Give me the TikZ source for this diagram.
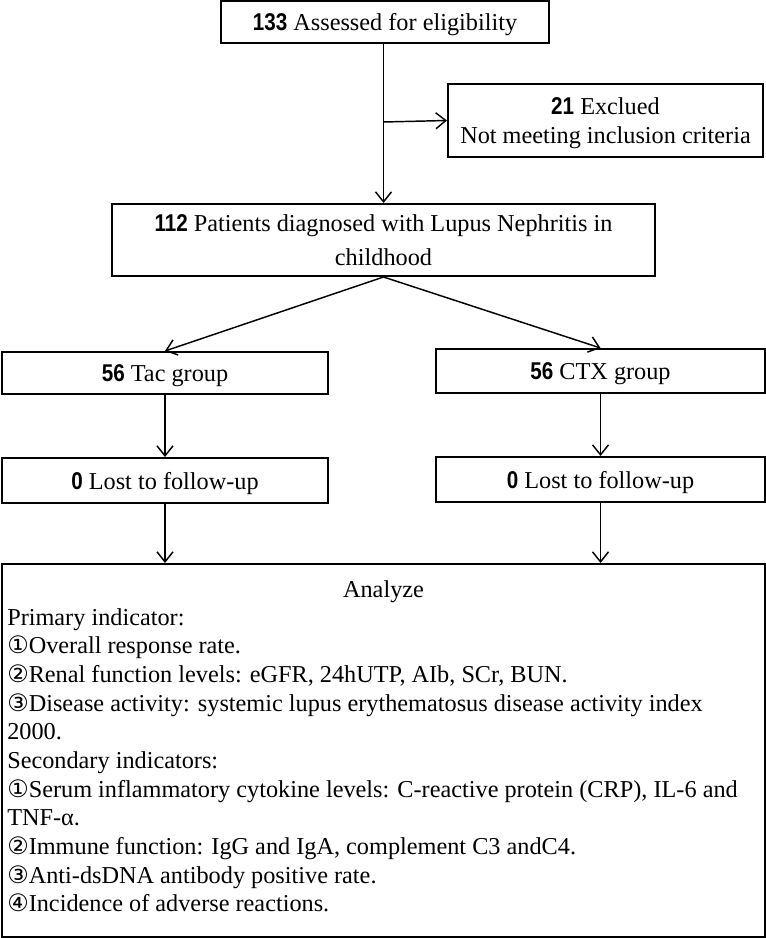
\documentclass[tikz,border=0pt]{standalone}
\usepackage{fontspec}
\setmainfont{Liberation Serif}
\newfontfamily\numfont[FakeStretch=0.85]{Liberation Sans}
\newfontfamily\circfont{DejaVu Sans}
\usetikzlibrary{arrows.meta}
\newcommand{\nb}[1]{{\numfont\bfseries #1}}
\newcommand{\cd}[1]{{\circfont\fontsize{18}{18}\selectfont #1}}
\begin{document}
\begin{tikzpicture}[x=0.75pt,y=-0.75pt,
  every node/.style={font=\fontsize{18.2}{21.75}\selectfont},
  box/.style={draw, line width=1.5pt, inner sep=0pt, align=center},
  one/.style={text height=17.5pt, text depth=4.5pt},
  arr/.style={line width=1.1pt, -{Straight Barb[length=7.5pt,width=12pt,line width=1.1pt]}}]
\useasboundingbox (0,0) rectangle (766,938);
\node[box, one, minimum width=246pt, minimum height=31.5pt] (top) at (385,22) {\nb{133} Assessed for eligibility};
\node[box, minimum width=236.25pt, minimum height=54.75pt] (excl) at (605.5,120.5) {};
\node[align=center, inner sep=0pt] (exclt) at (605.5,123.5) {\nb{21} Exclued\\Not meeting inclusion criteria};
\node[box, minimum width=407.25pt, minimum height=54pt, font=\fontsize{18.2}{25.5}\selectfont] (mid) at (383.5,240) {\nb{112} Patients diagnosed with Lupus Nephritis in\\childhood};
\node[box, one, minimum width=244.5pt, minimum height=31.5pt] (tac) at (165,373) {\nb{56} Tac group};
\node[box, one, minimum width=246.75pt, minimum height=33pt] (ctx) at (600.5,371) {\nb{56} CTX group};
\node[box, one, minimum width=244.5pt, minimum height=33.75pt] (lost1) at (165,480.5) {\nb{0} Lost to follow-up};
\node[box, one, minimum width=246.75pt, minimum height=33.75pt] (lost2) at (600.5,479.5) {\nb{0} Lost to follow-up};
\node[box, minimum width=572.25pt, minimum height=279.75pt] (an) at (383.5,750.5) {};
\node (antitle) at (383.5,592) {Analyze};
\node[anchor=north west, align=left, inner sep=0pt, font=\fontsize{18.2}{21.5}\selectfont] (antext) at (7,608) {%
Primary indicator:\\
\cd{①}Overall response rate.\\
\cd{②}Renal function levels: eGFR, 24hUTP, AIb, SCr, BUN.\\
\cd{③}Disease activity: systemic lupus erythematosus disease activity index\\
2000.\\
Secondary indicators:\\
\cd{①}Serum inflammatory cytokine levels: C-reactive protein (CRP), IL-6 and\\
TNF-α.\\
\cd{②}Immune function: IgG and IgA, complement C3 andC4.\\
\cd{③}Anti-dsDNA antibody positive rate.\\
\cd{④}Incidence of adverse reactions.};
\coordinate (br) at (383.5,122);
\draw[arr] (383.5,43) -- (mid.north);
\draw[arr] (br) -- (excl.west);
\draw[arr] (mid.south) -- (tac.north);
\draw[arr] (mid.south) -- (ctx.north);
\draw[arr] (tac.south) -- (lost1.north);
\draw[arr] (ctx.south) -- (lost2.north);
\draw[arr] (lost1.south) -- (lost1.south |- an.north);
\draw[arr] (lost2.south) -- (lost2.south |- an.north);
\end{tikzpicture}
\end{document}
